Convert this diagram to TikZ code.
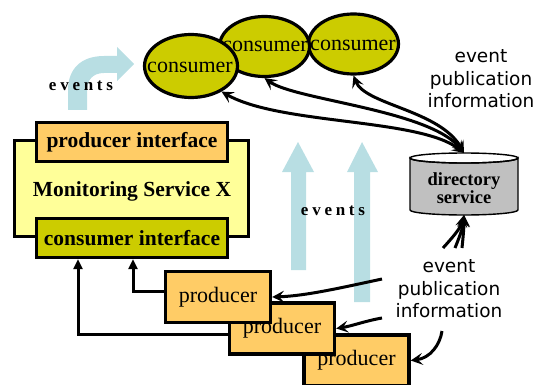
\documentclass[tikz,border=0pt]{standalone}
\usepackage{fontspec}
\setmainfont{Liberation Serif}
\newfontfamily\lblfont{DejaVu Sans}
\usetikzlibrary{arrows.meta,shapes.geometric}
\definecolor{msyellow}{HTML}{FFFF99}
\definecolor{orangebox}{HTML}{FFCC66}
\definecolor{olivebox}{HTML}{CCCC00}
\definecolor{dirgray}{HTML}{C0C0C0}
\definecolor{evblue}{HTML}{B8DEE3}
\begin{document}
\begin{tikzpicture}[x=1pt,y=-1pt,
  box/.style={draw=black, line width=3.4pt, inner sep=0pt},
  cons/.style={ellipse, draw=black, line width=3.2pt, fill=olivebox, inner sep=0pt},
  serif/.style={font=\fontsize{22}{24}\selectfont},
  boldt/.style={font=\fontsize{21.5}{24}\selectfont\bfseries},
  evtext/.style={font=\fontsize{17}{18}\selectfont\bfseries\addfontfeature{LetterSpace=22}},
  lbl/.style={font=\fontsize{18.5}{22.5}\selectfont\lblfont, align=center},
  conn/.style={draw=black, line width=3pt},
  barb/.tip={Stealth[length=12pt,width=12pt,inset=5pt]},
  tri/.tip={Triangle[length=10pt,width=9pt]},
  blue/.style={fill=evblue, draw=none}]
\useasboundingbox (0,0) rectangle (543,385);

% blue event arrows
\path[blue] (68,110) -- (68,90) .. controls (68,70) and (80,56) .. (104,56) -- (117,56) -- (117,47) -- (134,64) -- (117,81) -- (117,73) -- (104,73) .. controls (93,73) and (87,80) .. (87,90) -- (87,110) -- cycle;
\path[blue] (291,270) -- (291,172) -- (282,172) -- (298,142) -- (314,172) -- (306,172) -- (306,270) -- cycle;
\path[blue] (354,302) -- (354,172) -- (347,172) -- (362,142) -- (378,172) -- (370,172) -- (370,302) -- cycle;
\node[evtext] (ev1) at (81,86) {events};
\node[evtext] (ev2) at (333,211) {events};

% monitoring service
\node[box, fill=msyellow, minimum width=234pt, minimum height=96pt] (ms) at (131.5,188.5) {};
\node[boldt] (mstext) at (132,191) {Monitoring Service X};
\node[box, fill=orangebox, minimum width=191pt, minimum height=39pt, boldt] (pi) at (132,142) {producer interface};
\node[box, fill=olivebox, minimum width=191pt, minimum height=39pt, boldt] (ci) at (132,238) {consumer interface};

% consumers
\node[cons, minimum width=90pt, minimum height=60pt] (c3) at (353.5,44) {};
\node[serif] (c3t) at (353,45) {consumer};
\node[cons, minimum width=90pt, minimum height=60pt] (c2) at (264.5,46.5) {};
\node[serif] (c2t) at (265,46) {consumer};
\node[cons, minimum width=93pt, minimum height=63pt] (c1) at (191,66) {};
\node[serif] (c1t) at (190,67) {consumer};

% directory service cylinder
\filldraw[fill=dirgray, draw=black, line width=1.4pt] (410,158) -- (410,210) arc[start angle=180, end angle=0, x radius=54, y radius=5] -- (518,158) arc[start angle=0, end angle=180, x radius=54, y radius=5] -- cycle;
\draw[line width=1.4pt] (464,158) ellipse [x radius=54, y radius=5];
\node[font=\fontsize{18.5}{18}\selectfont\bfseries, align=center] (dir) at (464,188) {directory\\service};
\coordinate (dirtop) at (464,153);
\coordinate (dirbot) at (464,215);

% producers
\node[box, fill=orangebox, minimum width=105pt, minimum height=51pt, serif] (p3) at (356.5,360.5) {producer};
\node[box, fill=orangebox, minimum width=105pt, minimum height=51pt, serif] (p2) at (282,328.5) {producer};
\node[box, fill=orangebox, minimum width=105pt, minimum height=51pt, serif] (p1) at (218,297) {producer};

% labels
\node[lbl] (info1) at (481,79) {event\\publication\\information};
\node[lbl] (info2) at (449,289) {event\\publication\\information};

% producers to consumer interface
\draw[conn, -tri] ([yshift=6pt]p1.west) -| ([xshift=1pt]ci.south);
\draw[conn, -tri] ([yshift=-5.5pt]p2.west) -| ([xshift=-54pt]ci.south);

% event publication information to producers
\coordinate (a1) at (382,279);
\coordinate (a2) at (382,318);
\coordinate (a3) at (442,331);
\draw[conn, -barb] (a1) .. controls (340,288) and (305,296) .. (p1.east);
\draw[conn, -barb] (a2) .. controls (365,321) and (352,326) .. (p2.east);
\draw[conn, -barb] (a3) .. controls (440,345) and (430,358) .. (p3.east);

% event publication information to directory
\coordinate (b1) at (443,248);
\coordinate (b2) at (455,248);
\coordinate (b3) at (462,248);
\draw[conn, -barb] (b1) .. controls (452,238) and (461,228) .. (dirbot);
\draw[conn, -barb] (b2) .. controls (459,238) and (463,228) .. (dirbot);
\draw[conn, -barb] (b3) .. controls (463,238) and (464,228) .. (dirbot);

% directory to consumers
\draw[conn, barb-barb] (c1.-40) .. controls (280,125) and (420,118) .. (dirtop);
\draw[conn, barb-barb] (c2.south) .. controls (295,100) and (430,110) .. (dirtop);
\draw[conn, barb-barb] (c3.south) .. controls (365,105) and (440,110) .. (dirtop);
\end{tikzpicture}
\end{document}
